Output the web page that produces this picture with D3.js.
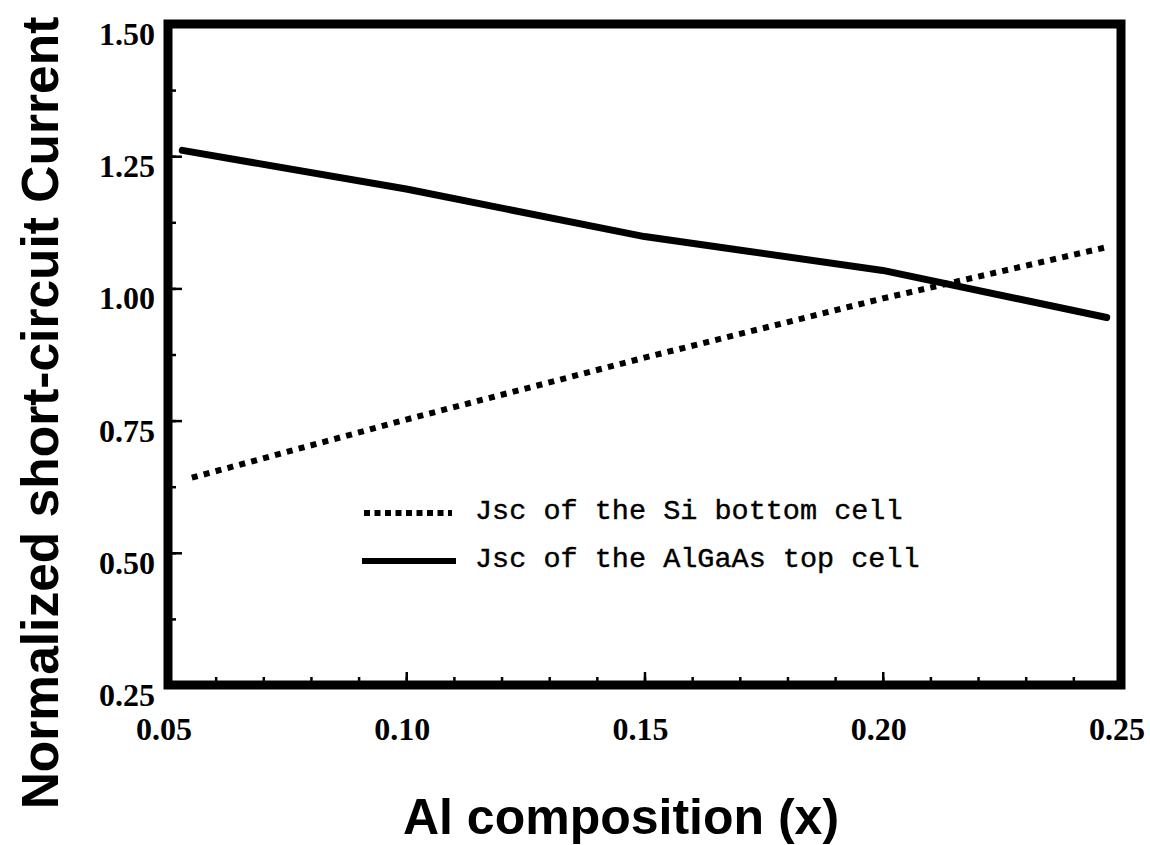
<!DOCTYPE html>
<html>
<head>
<meta charset="utf-8">
<script src="https://cdn.jsdelivr.net/npm/d3@7"></script>
<style>
  html, body { margin: 0; padding: 0; background: #fff; }
  svg { display: block; }
</style>
</head>
<body>
<svg id="chart" width="1150" height="845"></svg>
<script>
// ---- data ----
const siX = [0.055, 0.10, 0.15, 0.20, 0.247];
const siY = [0.642, 0.752, 0.869, 0.981, 1.078];
const algaasX = [0.053, 0.10, 0.15, 0.20, 0.247];
const algaasY = [1.261, 1.188, 1.098, 1.034, 0.945];
const xTicks = [0.05, 0.10, 0.15, 0.20, 0.25];
const xTickLabels = ["0.05", "0.10", "0.15", "0.20", "0.25"];
const yTicks = [0.25, 0.50, 0.75, 1.00, 1.25, 1.50];
const yTickLabels = ["0.25", "0.50", "0.75", "1.00", "1.25", "1.50"];
const legendLabels = ["Jsc of the Si bottom cell", "Jsc of the AlGaAs top cell"];
const xTitle = "Al composition (x)";
const yTitle = "Normalized short-circuit Current";

// ---- layout ----
const L = 168, R = 1121, T = 24, B = 685;
const svg = d3.select("#chart");
const x = d3.scaleLinear().domain([0.05, 0.25]).range([L, R]);
const y = d3.scaleLinear().domain([0.25, 1.5]).range([B, T]);

const serif = "'Liberation Serif', 'Times New Roman', serif";
const sans = "'Liberation Sans', Arial, sans-serif";
const mono = "'Liberation Mono', 'Courier New', monospace";

// minor ticks
const xMinor = d3.range(0, 21).map(i => 0.05 + i * 0.01);
const yMinor = d3.range(0, 11).map(i => 0.25 + i * 0.125);

const xAxisMinor = d3.axisBottom(x).tickValues(xMinor).tickSize(-8).tickFormat("");
const xAxisMajor = d3.axisBottom(x).tickValues(xTicks).tickSize(-13).tickFormat("");
const yAxisMinor = d3.axisLeft(y).tickValues(yMinor).tickSize(-8).tickFormat("");
const yAxisMajor = d3.axisLeft(y).tickValues(yTicks).tickSize(-14).tickFormat("");

function styleAxis(g) {
  g.select(".domain").remove();
  g.selectAll(".tick line").attr("stroke", "#000").attr("stroke-width", 2.5);
}
svg.append("g").attr("transform", `translate(0,${B})`).call(xAxisMinor).call(styleAxis);
svg.append("g").attr("transform", `translate(0,${B})`).call(xAxisMajor).call(styleAxis);
svg.append("g").attr("transform", `translate(${L},0)`).call(yAxisMinor).call(styleAxis);
svg.append("g").attr("transform", `translate(${L},0)`).call(yAxisMajor).call(styleAxis);

// tick labels
svg.append("g").selectAll("text").data(xTicks).join("text")
  .attr("x", d => x(d) - 4)
  .attr("y", 740)
  .attr("text-anchor", "middle")
  .attr("font-family", serif).attr("font-weight", "bold").attr("font-size", 32)
  .attr("fill", "#000")
  .text((d, i) => xTickLabels[i]);

svg.append("g").selectAll("text").data(yTicks).join("text")
  .attr("x", 155)
  .attr("y", d => y(d) + 21)
  .attr("text-anchor", "end")
  .attr("font-family", serif).attr("font-weight", "bold").attr("font-size", 32)
  .attr("fill", "#000")
  .text((d, i) => yTickLabels[i]);

// lines
const line = d3.line().x(d => x(d[0])).y(d => y(d[1]));
const siData = siX.map((v, i) => [v, siY[i]]);
const alData = algaasX.map((v, i) => [v, algaasY[i]]);

svg.append("path").datum(alData)
  .attr("d", line).attr("fill", "none").attr("stroke", "#000")
  .attr("stroke-width", 7).attr("stroke-linejoin", "round").attr("stroke-linecap", "round");

svg.append("path").datum(siData)
  .attr("d", line).attr("fill", "none").attr("stroke", "#000")
  .attr("stroke-width", 6).attr("stroke-dasharray", "6,6.3").attr("stroke-linecap", "butt");

// frame
svg.append("rect")
  .attr("x", L).attr("y", T).attr("width", R - L).attr("height", B - T)
  .attr("fill", "none").attr("stroke", "#000").attr("stroke-width", 9);

// legend
const lg = svg.append("g");
lg.append("line").attr("x1", 364).attr("x2", 452).attr("y1", 513).attr("y2", 513)
  .attr("stroke", "#000").attr("stroke-width", 6).attr("stroke-dasharray", "6,4.5");
lg.append("line").attr("x1", 362).attr("x2", 456).attr("y1", 561).attr("y2", 561)
  .attr("stroke", "#000").attr("stroke-width", 6);
lg.selectAll("text").data(legendLabels).join("text")
  .attr("x", 475)
  .attr("y", (d, i) => 519 + i * 48)
  .attr("font-family", mono).attr("font-size", 28.5).attr("fill", "#000")
  .attr("stroke", "#000").attr("stroke-width", 0.4)
  .text(d => d);

// axis titles
svg.append("text")
  .attr("x", 621).attr("y", 834)
  .attr("text-anchor", "middle")
  .attr("font-family", sans).attr("font-weight", "bold").attr("font-size", 50)
  .attr("fill", "#000")
  .text(xTitle);

svg.append("text")
  .attr("transform", "translate(58,413) rotate(-90)")
  .attr("text-anchor", "middle")
  .attr("font-family", sans).attr("font-weight", "bold").attr("font-size", 51.5)
  .attr("fill", "#000")
  .text(yTitle);
</script>
</body>
</html>
